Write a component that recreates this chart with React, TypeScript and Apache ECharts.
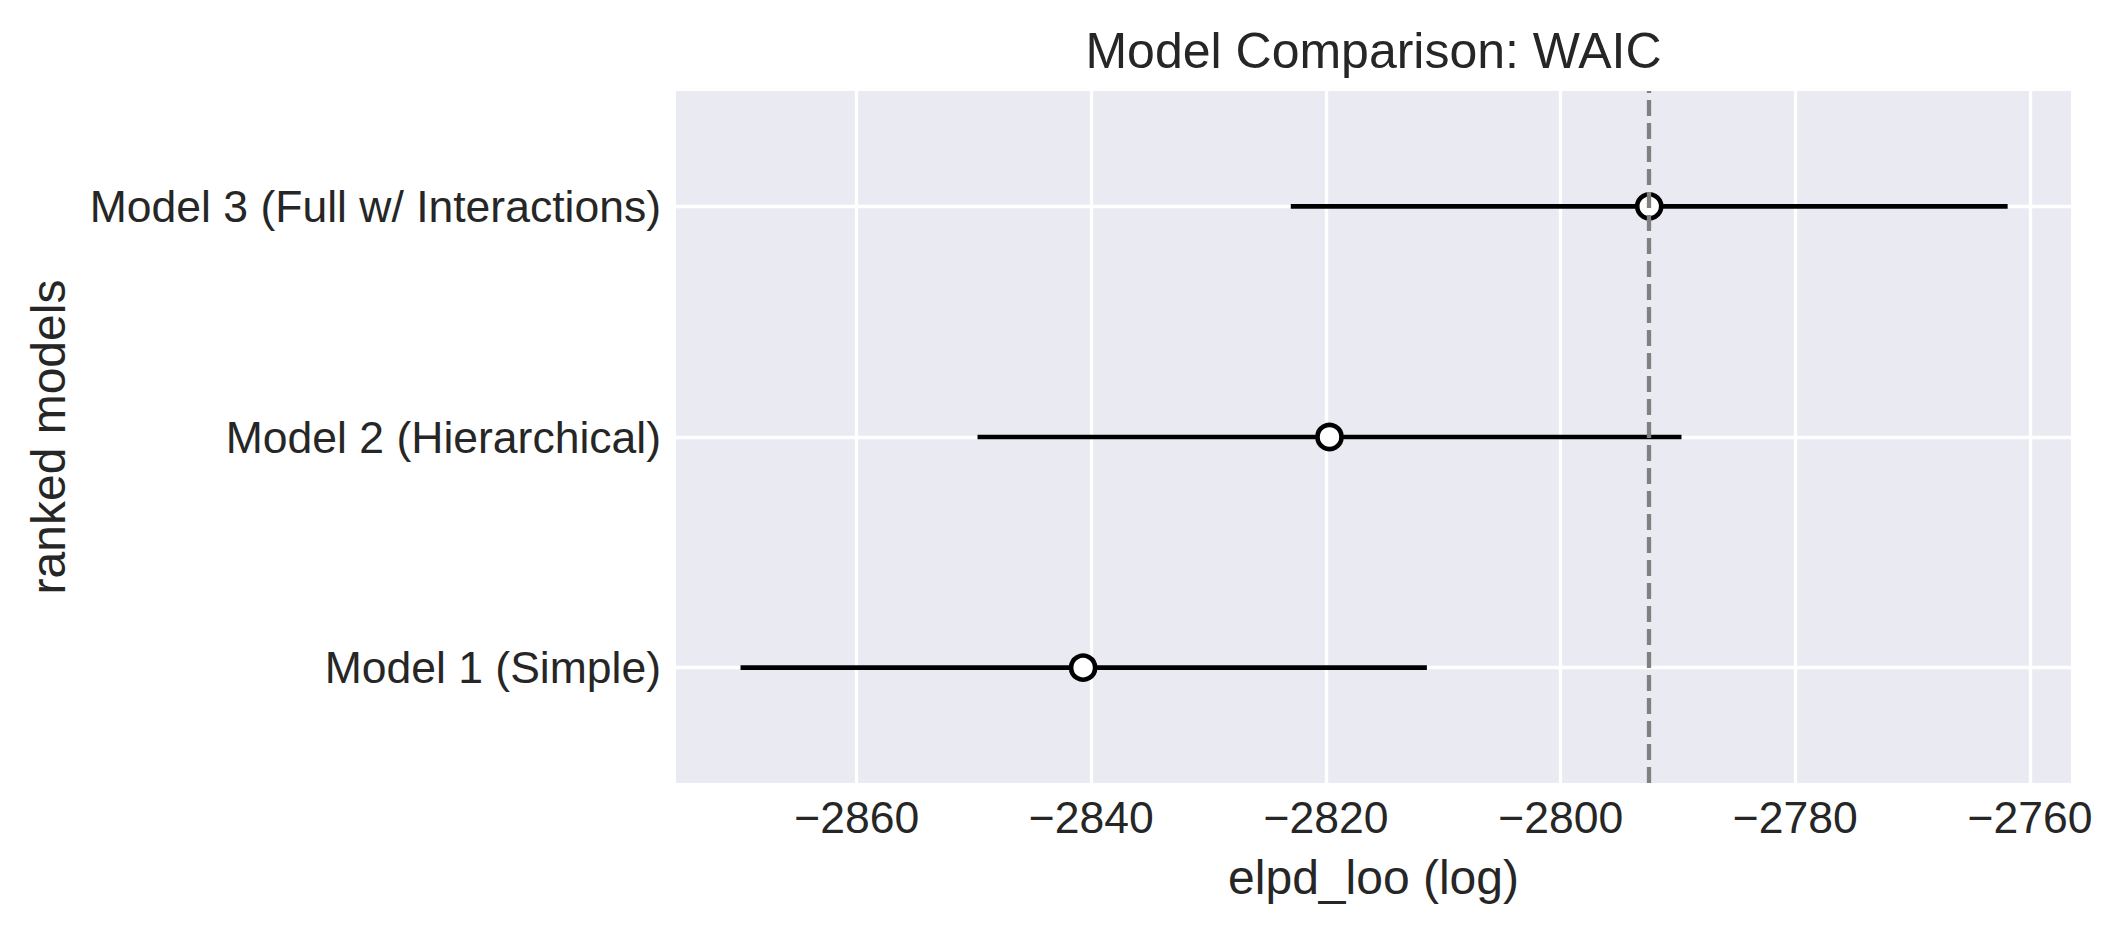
import React, { useEffect, useRef } from "react";
import * as echarts from "echarts";

const models = ["Model 1 (Simple)", "Model 2 (Hierarchical)", "Model 3 (Full w/ Interactions)"];
const elpd = [-2840.7, -2819.7, -2792.45];
const lower = [-2869.9, -2849.7, -2823.0];
const upper = [-2811.4, -2789.7, -2761.9];
const xTicks = [-2860, -2840, -2820, -2800, -2780, -2760];
const yTicks = [0, 1, 2];
const bestElpd = -2792.45;
const xMin = -2875.4;
const xMax = -2756.5;

const FONT = "'Liberation Sans', Arial, Helvetica, sans-serif";
const TEXT = "#262626";

export default function App() {
  const ref = useRef<HTMLDivElement>(null);
  useEffect(() => {
    if (!ref.current) return;
    const chart = echarts.init(ref.current, undefined, { renderer: "svg" });
    const errData = models.map((_, i) => [lower[i], upper[i], i]);
    const ptData = models.map((_, i) => [elpd[i], i]);
    chart.setOption({
      animation: false,
      backgroundColor: "#ffffff",
      textStyle: { fontFamily: FONT, color: TEXT },
      grid: {
        left: 676,
        right: 50,
        top: 91,
        bottom: 147,
        show: true,
        backgroundColor: "#EAEAF2",
        borderWidth: 0,
        containLabel: false,
      },
      xAxis: {
        type: "value",
        min: xMin,
        max: xMax,
        axisLine: { show: false },
        axisTick: { show: false, customValues: xTicks },
        axisLabel: {
          customValues: xTicks,
          margin: 12,
          fontSize: 44.5,
          fontFamily: FONT,
          color: TEXT,
          formatter: (v: number) => String(v).replace("-", "\u2212"),
        },
        splitLine: { show: true, lineStyle: { color: "#ffffff", width: 3.3 } },
      },
      yAxis: {
        type: "value",
        min: -0.5,
        max: 2.5,
        axisLine: { show: false },
        axisTick: { show: false, customValues: yTicks },
        axisLabel: {
          customValues: yTicks,
          margin: 15,
          fontSize: 44.5,
          fontFamily: FONT,
          color: TEXT,
          formatter: (v: number) => models[Math.round(v)] ?? "",
        },
        splitLine: { show: true, lineStyle: { color: "#ffffff", width: 3.3 } },
      },
      graphic: [
        {
          type: "text",
          x: 1373.5,
          y: 51,
          style: {
            text: "Model Comparison: WAIC",
            font: `50px ${FONT}`,
            fill: TEXT,
            textAlign: "center",
            textVerticalAlign: "middle",
          },
        },
        {
          type: "text",
          x: 1373.5,
          y: 877,
          style: {
            text: "elpd_loo (log)",
            font: `48px ${FONT}`,
            fill: TEXT,
            textAlign: "center",
            textVerticalAlign: "middle",
          },
        },
        {
          type: "text",
          x: 48,
          y: 437,
          rotation: Math.PI / 2,
          style: {
            text: "ranked models",
            font: `48px ${FONT}`,
            fill: TEXT,
            textAlign: "center",
            textVerticalAlign: "middle",
          },
        },
      ],
      series: [
        {
          type: "custom",
          z: 2,
          data: errData,
          encode: { x: [0, 1], y: 2 },
          renderItem: (params: any, api: any) => {
            const y = api.value(2);
            const p1 = api.coord([api.value(0), y]);
            const p2 = api.coord([api.value(1), y]);
            return {
              type: "line",
              shape: { x1: p1[0], y1: p1[1], x2: p2[0], y2: p2[1] },
              style: { stroke: "#000000", lineWidth: 4.6, lineCap: "butt" },
            };
          },
        },
        {
          type: "scatter",
          z: 3,
          data: [],
          markLine: {
            silent: true,
            symbol: "none",
            label: { show: false },
            lineStyle: { color: "#808080", width: 4.3, type: [16, 7] },
            data: [{ xAxis: bestElpd }],
          },
        },
        {
          type: "scatter",
          z: 4,
          data: ptData,
          symbol: "circle",
          symbolSize: 24,
          itemStyle: { color: "#ffffff", borderColor: "#000000", borderWidth: 4.6, opacity: 1 },
        },
      ],
    });
    return () => chart.dispose();
  }, []);
  return (
    <div
      ref={ref}
      style={{ position: "fixed", left: 0, top: 0, width: 2121, height: 930, background: "#fff" }}
    />
  );
}
